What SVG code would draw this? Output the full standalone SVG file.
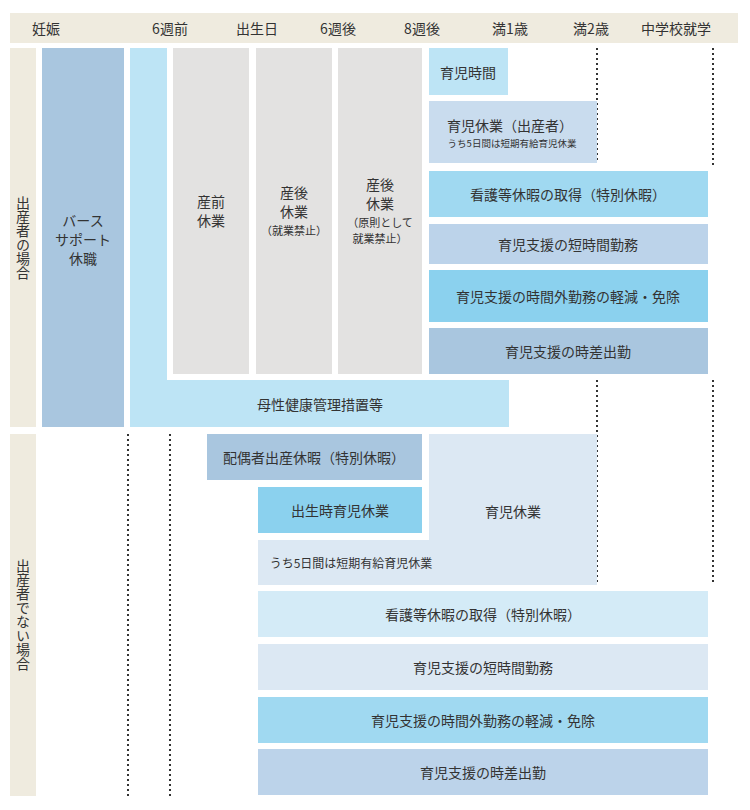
<svg xmlns="http://www.w3.org/2000/svg" width="750" height="810" viewBox="0 0 750 810">
<style>
text{font-family:"Noto Sans CJK JP","Noto Sans",sans-serif;fill:#333;font-size:14px;text-anchor:middle;dominant-baseline:central}
.s{font-size:11px}
.d{stroke:#333;stroke-width:2;stroke-dasharray:2 3;fill:none}
</style>
<rect width="750" height="810" fill="#fff"/>
<g id="header"><rect x="10" y="13" width="728" height="30" fill="#efebdf"/>
<text x="46" y="28">妊娠</text><text x="170" y="28">6週前</text><text x="257" y="28">出生日</text><text x="338" y="28">6週後</text><text x="422" y="28">8週後</text><text x="510" y="28">満1歳</text><text x="591" y="28">満2歳</text><text x="676" y="28">中学校就学</text></g>
<g id="connectors">
<line class="d" x1="597" y1="48" x2="597" y2="163"/><line class="d" x1="597" y1="380" x2="597" y2="585"/>
<line class="d" x1="713" y1="48" x2="713" y2="168"/><line class="d" x1="713" y1="380" x2="713" y2="585"/>
<line class="d" x1="128" y1="434" x2="128" y2="797"/><line class="d" x1="170" y1="434" x2="170" y2="797"/>
</g>
<g id="lab1"><rect x="10" y="48" width="26" height="379" fill="#efebdf"/><text x="23" y="238" style="writing-mode:vertical-rl">出産者の場合</text></g>
<g id="lab2"><rect x="10" y="434" width="26" height="362" fill="#efebdf"/><text x="23" y="615" style="writing-mode:vertical-rl">出産者でない場合</text></g>
<g id="birth"><rect x="42" y="48" width="82" height="379" fill="#a9c6df"/><text x="83" y="220">バース</text><text x="83" y="239">サポート</text><text x="83" y="258">休職</text></g>
<g id="bosei"><path d="M130 48H167V380H509V427H130Z" fill="#bde4f5"/><text x="320" y="404">母性健康管理措置等</text></g>
<g id="sanzen"><rect x="173" y="48" width="76" height="326" fill="#e3e2e1"/><text x="211" y="201">産前</text><text x="211" y="220">休業</text></g>
<g id="sango1"><rect x="256" y="48" width="76" height="326" fill="#e3e2e1"/><text x="294" y="192">産後</text><text x="294" y="211">休業</text><text class="s" x="294" y="230">（就業禁止）</text></g>
<g id="sango2"><rect x="338" y="48" width="84" height="326" fill="#e3e2e1"/><text x="380" y="184">産後</text><text x="380" y="203">休業</text><text class="s" x="380" y="222">（原則として</text><text class="s" x="380" y="238">就業禁止）</text></g>
<g id="ikuji-jikan"><rect x="429" y="48" width="79" height="47" fill="#bde4f5"/><text x="468" y="72">育児時間</text></g>
<g id="ikukyu1"><rect x="429" y="101" width="168" height="62" fill="#c9dcee"/><text x="510" y="125">育児休業（出産者）</text><text class="s" x="512" y="143" style="font-size:9.5px">うち5日間は短期有給育児休業</text></g>
<g id="kango1"><rect x="429" y="171" width="279" height="46" fill="#a0d9f1"/><text x="568" y="194">看護等休暇の取得（特別休暇）</text></g>
<g id="tanjikan1"><rect x="429" y="224" width="279" height="40" fill="#bcd3ea"/><text x="568" y="244">育児支援の短時間勤務</text></g>
<g id="jikangai1"><rect x="429" y="270" width="279" height="52" fill="#8bd1ee"/><text x="568" y="296">育児支援の時間外勤務の軽減・免除</text></g>
<g id="jisa1"><rect x="429" y="328" width="279" height="46" fill="#a9c6df"/><text x="568" y="351">育児支援の時差出勤</text></g>
<g id="haigusha"><rect x="207" y="434" width="215" height="46" fill="#a9c6df"/><text x="314" y="457">配偶者出産休暇（特別休暇）</text></g>
<g id="ikukyu2"><path d="M429 434H597V585H258V540H429Z" fill="#dce8f3"/><text x="513" y="511">育児休業</text><text class="s" x="351" y="562" style="font-size:12px">うち5日間は短期有給育児休業</text></g>
<g id="shusshoji"><rect x="258" y="487" width="164" height="46" fill="#8bd1ee"/><text x="340" y="510">出生時育児休業</text></g>
<g id="kango2"><rect x="258" y="591" width="450" height="46" fill="#d4ebf7"/><text x="483" y="614">看護等休暇の取得（特別休暇）</text></g>
<g id="tanjikan2"><rect x="258" y="644" width="450" height="46" fill="#dce8f3"/><text x="483" y="667">育児支援の短時間勤務</text></g>
<g id="jikangai2"><rect x="258" y="697" width="450" height="46" fill="#a0d9f1"/><text x="483" y="720">育児支援の時間外勤務の軽減・免除</text></g>
<g id="jisa2"><rect x="258" y="749" width="450" height="46" fill="#bcd3ea"/><text x="483" y="772">育児支援の時差出勤</text></g>
</svg>
